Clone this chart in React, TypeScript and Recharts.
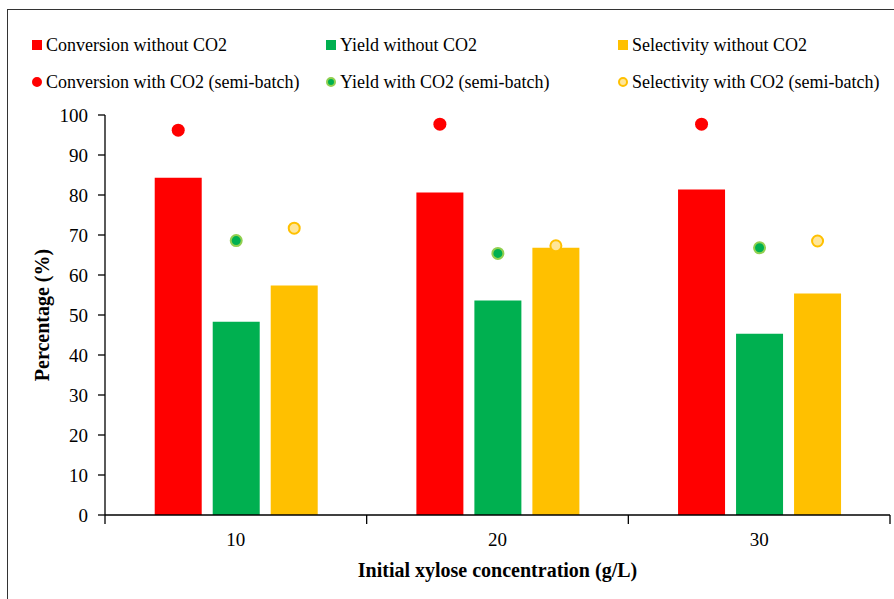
import { Bar, BarChart, XAxis, YAxis } from "recharts";

const FONT = '"Liberation Serif", "Times New Roman", serif';

// initial xylose concentration (g/L)
const categories = ["10", "20", "30"];

// without CO2 (bars)
const conversion = [84.3, 80.6, 81.4];
const yieldNoCO2 = [48.3, 53.6, 45.3];
const selectivity = [57.4, 66.8, 55.4];

// with CO2, semi-batch (points)
const conversionCO2 = [96.2, 97.7, 97.7];
const yieldCO2 = [68.6, 65.4, 66.8];
const selectivityCO2 = [71.7, 67.3, 68.5];

const yTicks = [0, 10, 20, 30, 40, 50, 60, 70, 80, 90, 100];

const RED = "#FF0000";
const GREEN = "#00B050";
const YELLOW = "#FFC000";

const data = categories.map((conc, i) => ({
  conc,
  conversion: conversion[i],
  yieldNo: yieldNoCO2[i],
  selectivity: selectivity[i],
  conversionCO2: conversionCO2[i],
  yieldCO2: yieldCO2[i],
  selectivityCO2: selectivityCO2[i],
}));

const legendRows = [
  [
    { label: "Conversion without CO2", kind: "square", fill: RED, stroke: RED },
    { label: "Yield without CO2", kind: "square", fill: GREEN, stroke: GREEN },
    { label: "Selectivity without CO2", kind: "square", fill: YELLOW, stroke: YELLOW },
  ],
  [
    { label: "Conversion with CO2 (semi-batch)", kind: "circle", fill: RED, stroke: RED },
    { label: "Yield with CO2 (semi-batch)", kind: "circle", fill: GREEN, stroke: "#92D050" },
    { label: "Selectivity with CO2 (semi-batch)", kind: "circle", fill: "#FFE699", stroke: YELLOW },
  ],
];
const legendCols = [32, 326, 618];
const legendRowY = [45, 82];

// draws a marker at the top centre of an (invisible) bar slot
const dotShape = (fill: string, stroke: string, sw: number, r: number) => (props: any) => {
  const { x, y, width } = props;
  if (x == null || y == null) return <g />;
  return <circle cx={x + width / 2} cy={y} r={r} fill={fill} stroke={stroke} strokeWidth={sw} />;
};

const XTick = (props: any) => {
  const { x, y, payload, index } = props;
  const half = payload && payload.offset ? payload.offset : 131;
  const y0 = y - 10;
  return (
    <g>
      <line x1={x - half} x2={x - half} y1={y0} y2={y0 + 9} stroke="#000" strokeWidth={1.3} />
      {index === categories.length - 1 && (
        <line x1={x + half} x2={x + half} y1={y0} y2={y0 + 9} stroke="#000" strokeWidth={1.3} />
      )}
      <text x={x} y={y + 8} dy="0.71em" textAnchor="middle" fill="#000" fontSize={19} fontFamily={FONT}>
        {payload.value}
      </text>
    </g>
  );
};

const YTitle = (props: any) => {
  const vb = props.viewBox || { x: 45, y: 115, width: 60, height: 400 };
  const cx = vb.x - 3;
  const cy = vb.y + vb.height / 2;
  return (
    <text
      x={cx}
      y={cy}
      transform={`rotate(-90, ${cx}, ${cy})`}
      textAnchor="middle"
      dominantBaseline="central"
      fontSize={20}
      fontWeight="bold"
      fontFamily={FONT}
      fill="#000"
    >
      Percentage (%)
    </text>
  );
};

const App = () => {
  return (
    <div
      style={{
        position: "fixed",
        left: 0,
        top: 0,
        width: 894,
        height: 599,
        overflow: "hidden",
        background: "#fff",
        fontFamily: FONT,
      }}
    >
      <div
        style={{
          position: "absolute",
          left: 7,
          top: 9,
          width: 1000,
          height: 1000,
          border: "1.5px solid #333",
        }}
      />
      {legendRows.map((row, ri) =>
        row.map((item, ci) => (
          <div
            key={`${ri}-${ci}`}
            style={{
              position: "absolute",
              left: legendCols[ci],
              top: legendRowY[ri] - 11,
              height: 22,
              display: "flex",
              alignItems: "center",
              whiteSpace: "nowrap",
              fontSize: 18,
              color: "#000",
            }}
          >
            <span
              style={{
                display: "inline-block",
                boxSizing: "border-box",
                width: 10,
                height: 10,
                marginRight: 4,
                background: item.fill,
                border: `2px solid ${item.stroke}`,
                borderRadius: item.kind === "circle" ? "50%" : 0,
              }}
            />
            {item.label}
          </div>
        ))
      )}
      <div style={{ position: "absolute", left: 0, top: 0 }}>
        <BarChart
          width={894}
          height={599}
          data={data}
          margin={{ top: 115, right: 4, bottom: 22, left: 45 }}
          barCategoryGap="19%"
          barGap={11}
        >
          <XAxis
            dataKey="conc"
            axisLine={{ stroke: "#000", strokeWidth: 1.3 }}
            tickLine={false}
            tickSize={10}
            tickMargin={0}
            tick={<XTick />}
            height={62}
            label={{
              value: "Initial xylose concentration (g/L)",
              position: "insideBottom",
              offset: 0,
              fontSize: 20,
              fontWeight: "bold",
              fontFamily: FONT,
              fill: "#000",
            }}
          />
          <XAxis
            xAxisId="pts"
            dataKey="conc"
            orientation="top"
            height={0}
            tick={false}
            tickLine={false}
            axisLine={{ stroke: "#222", strokeWidth: 1.3 }}
          />
          <YAxis
            domain={[0, 100]}
            ticks={yTicks}
            interval={0}
            width={60}
            tickSize={7}
            tickMargin={10}
            axisLine={{ stroke: "#000", strokeWidth: 1.3 }}
            tickLine={{ stroke: "#000", strokeWidth: 1.3 }}
            tick={{ fill: "#000", fontSize: 19, fontFamily: FONT }}
            label={{ content: <YTitle /> }}
          />
          <YAxis
            yAxisId="r"
            orientation="right"
            domain={[0, 100]}
            width={0}
            tick={false}
            tickLine={false}
            axisLine={{ stroke: "#222", strokeWidth: 1.3 }}
          />
          <Bar dataKey="conversion" fill={RED} isAnimationActive={false} />
          <Bar dataKey="yieldNo" fill={GREEN} isAnimationActive={false} />
          <Bar dataKey="selectivity" fill={YELLOW} isAnimationActive={false} />
          <Bar
            xAxisId="pts"
            dataKey="conversionCO2"
            fill={RED}
            shape={dotShape(RED, RED, 0, 6.5)}
            isAnimationActive={false}
          />
          <Bar
            xAxisId="pts"
            dataKey="yieldCO2"
            fill={GREEN}
            shape={dotShape(GREEN, "#92D050", 2, 5.5)}
            isAnimationActive={false}
          />
          <Bar
            xAxisId="pts"
            dataKey="selectivityCO2"
            fill={YELLOW}
            shape={dotShape("#FFE699", YELLOW, 2, 5.5)}
            isAnimationActive={false}
          />
        </BarChart>
      </div>
    </div>
  );
};

export default App;
